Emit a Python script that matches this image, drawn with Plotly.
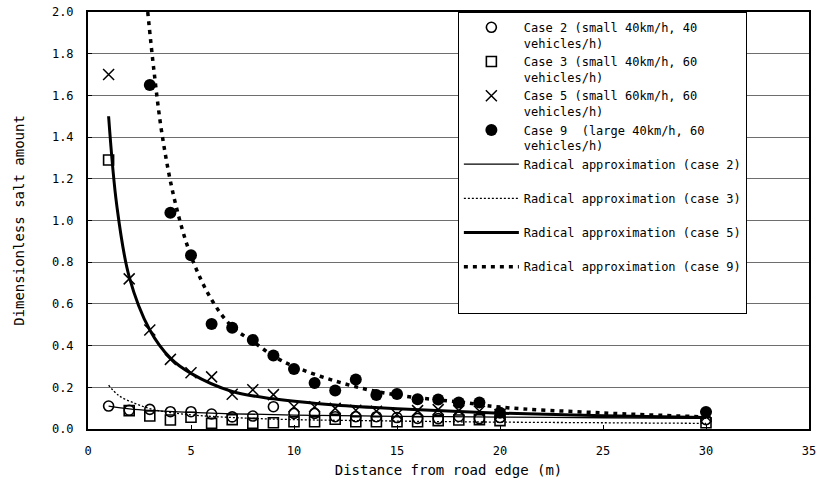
import plotly.graph_objects as go

# ---- data ----
dist_pts = [1, 2, 3, 4, 5, 6, 7, 8, 9, 10, 11, 12, 13, 14, 15, 16, 17, 18, 19, 20, 30]
case2_vals = [0.110, 0.090, 0.094, 0.083, 0.083, 0.072, 0.058, 0.062, 0.107, 0.075, 0.075,
              0.059, 0.059, 0.059, 0.055, 0.051, 0.050, 0.060, 0.050, 0.055, 0.045]
case3_vals = [1.29, 0.088, 0.062, 0.043, 0.056, 0.027, 0.045, 0.027, 0.030, 0.035, 0.035,
              0.047, 0.035, 0.035, 0.035, 0.035, 0.040, 0.043, 0.045, 0.040, 0.030]
case5_vals = [1.70, 0.72, 0.475, 0.334, 0.27, 0.25, 0.167, 0.188, 0.165, 0.107, 0.107,
              0.099, 0.090, 0.085, 0.070, 0.088, 0.093, 0.088, 0.085, 0.070, 0.060]
case9_dist = [3, 4, 5, 6, 7, 8, 9, 10, 11, 12, 13, 14, 15, 16, 17, 18, 19, 20, 30]
case9_vals = [1.65, 1.037, 0.833, 0.504, 0.486, 0.427, 0.352, 0.288, 0.221, 0.185, 0.237,
              0.163, 0.168, 0.143, 0.142, 0.127, 0.127, 0.078, 0.082]

# approximation curves
fit2_x = [1, 2, 3, 5, 7, 10, 15, 20, 25, 30]
fit2_y = [0.110, 0.097, 0.089, 0.080, 0.073, 0.067, 0.061, 0.057, 0.054, 0.051]
fit3_x = [1, 1.5, 2.3, 3.1, 4, 5.2, 7, 9.6, 15, 20, 25, 30]
fit3_y = [0.210, 0.160, 0.122, 0.095, 0.079, 0.066, 0.055, 0.046, 0.038, 0.033, 0.030, 0.027]
fit5_x = [1, 1.4, 2, 3, 4, 5, 7, 9, 12, 15, 20, 25, 30]
fit5_y = [1.50, 1.07, 0.73, 0.475, 0.34, 0.267, 0.18, 0.145, 0.115, 0.097, 0.076, 0.064, 0.055]
fit9_x = [2.9, 3.2, 3.6, 4.2, 5, 6, 7, 8, 9, 10, 12, 14, 16, 18, 20, 25, 30]
fit9_y = [2.0, 1.72, 1.41, 1.10, 0.83, 0.62, 0.49, 0.42, 0.35, 0.30, 0.23, 0.18, 0.15, 0.13,
          0.105, 0.077, 0.058]

x_ticks = [0, 5, 10, 15, 20, 25, 30, 35]
y_ticks = [0.0, 0.2, 0.4, 0.6, 0.8, 1.0, 1.2, 1.4, 1.6, 1.8, 2.0]

names = [
    "Case 2 (small 40km/h, 40<br>vehicles/h)",
    "Case 3 (small 40km/h, 60<br>vehicles/h)",
    "Case 5 (small 60km/h, 60<br>vehicles/h)",
    "Case 9  (large 40km/h, 60<br>vehicles/h)",
    "Radical approximation (case 2)<br>&nbsp;",
    "Radical approximation (case 3)<br>&nbsp;",
    "Radical approximation (case 5)<br>&nbsp;",
    "Radical approximation (case 9)<br>&nbsp;<br>&nbsp;",
]

BLACK = "#000000"
fig = go.Figure()

fig.add_trace(go.Scatter(x=dist_pts, y=case2_vals, mode="markers", name=names[0],
                         marker=dict(symbol="circle-open", size=10, color=BLACK,
                                     line=dict(width=1.6, color=BLACK))))
fig.add_trace(go.Scatter(x=dist_pts, y=case3_vals, mode="markers", name=names[1],
                         marker=dict(symbol="square-open", size=10, color=BLACK,
                                     line=dict(width=1.6, color=BLACK))))
fig.add_trace(go.Scatter(x=dist_pts, y=case5_vals, mode="markers", name=names[2],
                         marker=dict(symbol="x-thin-open", size=11, color=BLACK,
                                     line=dict(width=1.5, color=BLACK))))
fig.add_trace(go.Scatter(x=case9_dist, y=case9_vals, mode="markers", name=names[3],
                         marker=dict(symbol="circle", size=12, color=BLACK)))

fig.add_trace(go.Scatter(x=fit2_x, y=fit2_y, mode="lines", name=names[4],
                         line=dict(color=BLACK, width=1.3, shape="spline")))
fig.add_trace(go.Scatter(x=fit3_x, y=fit3_y, mode="lines", name=names[5],
                         line=dict(color=BLACK, width=1.3, dash="2px,2px", shape="spline")))
fig.add_trace(go.Scatter(x=fit5_x, y=fit5_y, mode="lines", name=names[6],
                         line=dict(color=BLACK, width=3, shape="spline")))
fig.add_trace(go.Scatter(x=fit9_x, y=fit9_y, mode="lines", name=names[7],
                         line=dict(color=BLACK, width=3.5, dash="4px,5px", shape="spline")))

MONO = "DejaVu Sans Mono"
fig.update_layout(
    width=821, height=482,
    margin=dict(l=88, r=12, t=12, b=53),
    paper_bgcolor="white", plot_bgcolor="white",
    font=dict(family=MONO, size=12, color=BLACK),
    showlegend=True,
    legend=dict(x=0.513, y=1.0, xanchor="left", yanchor="top",
                bgcolor="white", bordercolor=BLACK, borderwidth=1,
                font=dict(family=MONO, size=12, color=BLACK),
                valign="top", itemwidth=55, tracegroupgap=0),
    xaxis=dict(range=[0, 35], tickvals=x_ticks, ticktext=[str(v) for v in x_ticks],
               showgrid=False, zeroline=False, automargin=False,
               showline=True, linecolor=BLACK, linewidth=2, mirror=True,
               ticks="inside", ticklen=4, tickcolor=BLACK,
               ticklabelstandoff=10,
               title=dict(text="Distance from road edge (m)",
                          font=dict(family=MONO, size=14), standoff=8)),
    yaxis=dict(range=[0, 2.0], tickvals=y_ticks, ticktext=[f"{v:.1f}" for v in y_ticks],
               showgrid=True, gridcolor="#6e6e6e", gridwidth=1, zeroline=False,
               automargin=False,
               showline=True, linecolor=BLACK, linewidth=2, mirror=True,
               ticks="inside", ticklen=4, tickcolor=BLACK,
               ticklabelstandoff=10,
               title=dict(text="Dimensionless salt amount",
                          font=dict(family=MONO, size=14), standoff=24)),
)

fig.write_html("out.html")
